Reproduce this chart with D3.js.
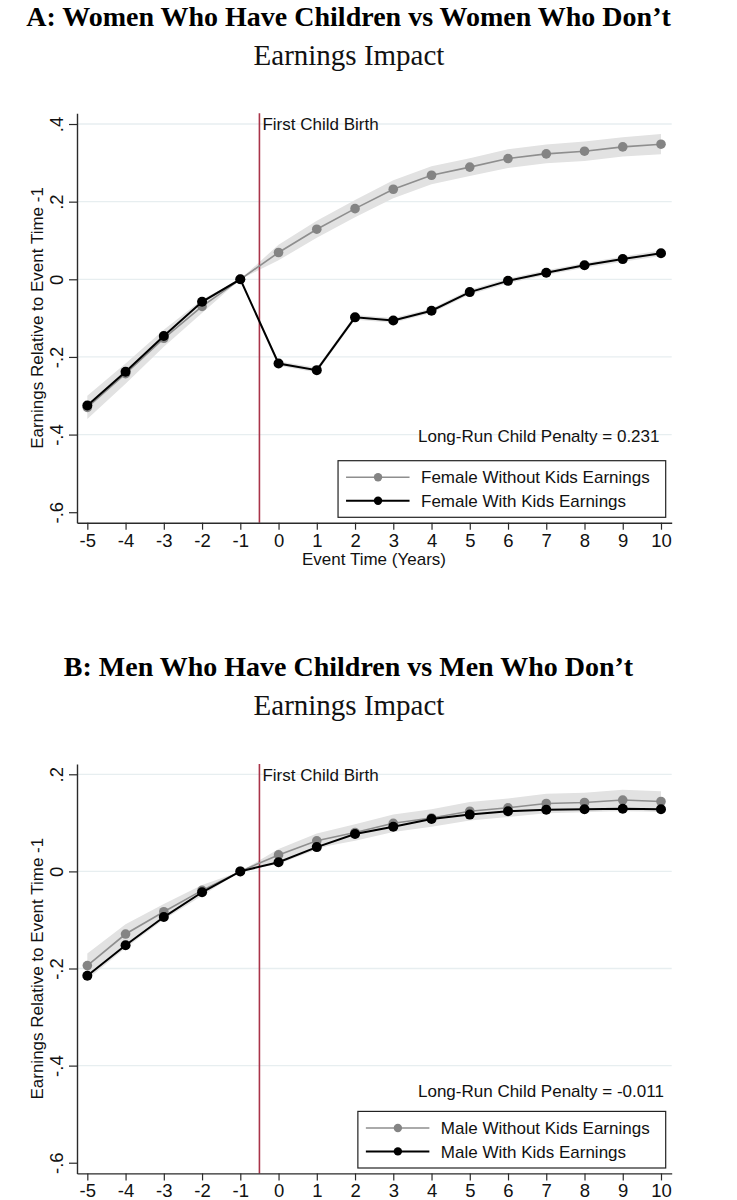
<!DOCTYPE html>
<html>
<head>
<meta charset="utf-8">
<script src="https://cdn.jsdelivr.net/npm/d3@7"></script>
<style>
  html, body { margin: 0; padding: 0; background: #ffffff; }
  svg { display: block; }
  text { font-family: "Liberation Sans", Arial, Helvetica, sans-serif; fill: #111; }
</style>
</head>
<body>
<svg id="chart" width="737" height="1200"></svg>
<script>
// ---------------- DATA ----------------
const eventTimes = [-5, -4, -3, -2, -1, 0, 1, 2, 3, 4, 5, 6, 7, 8, 9, 10];
const xTickLabels = ["-5", "-4", "-3", "-2", "-1", "0", "1", "2", "3", "4", "5", "6", "7", "8", "9", "10"];

const yTicks = [0.4, 0.2, 0, -0.2, -0.4, -0.6];
const yTickLabelsA = [".4", ".2", "0", "-.2", "-.4", "-.6"];
const yTicksB = [0.2, 0, -0.2, -0.4, -0.6];
const yTickLabelsB = [".2", "0", "-.2", "-.4", "-.6"];

// Panel A: women
const femaleWithoutKids   = [-0.330, -0.243, -0.152, -0.070, 0, 0.069, 0.129, 0.182, 0.232, 0.268, 0.289, 0.311, 0.323, 0.330, 0.341, 0.348];
const femaleWithoutKidsCI = [0.030, 0.026, 0.022, 0.017, 0, 0.020, 0.022, 0.022, 0.023, 0.023, 0.023, 0.024, 0.024, 0.025, 0.025, 0.026];
const femaleWithKids      = [-0.325, -0.238, -0.146, -0.058, 0, -0.217, -0.234, -0.098, -0.106, -0.081, -0.033, -0.004, 0.017, 0.036, 0.052, 0.067];
const femaleWithKidsCI    = [0.010, 0.009, 0.008, 0.006, 0, 0.006, 0.006, 0.006, 0.006, 0.006, 0.006, 0.006, 0.006, 0.006, 0.007, 0.007];

// Panel B: men
const maleWithoutKids   = [-0.194, -0.129, -0.083, -0.039, 0, 0.034, 0.063, 0.080, 0.099, 0.110, 0.124, 0.131, 0.140, 0.142, 0.147, 0.144];
const maleWithoutKidsCI = [0.025, 0.020, 0.016, 0.011, 0, 0.012, 0.015, 0.017, 0.018, 0.018, 0.019, 0.019, 0.020, 0.020, 0.021, 0.021];
const maleWithKids      = [-0.215, -0.152, -0.094, -0.043, 0, 0.019, 0.050, 0.077, 0.092, 0.108, 0.117, 0.124, 0.127, 0.128, 0.129, 0.128];
const maleWithKidsCI    = [0.007, 0.006, 0.005, 0.004, 0, 0.004, 0.005, 0.005, 0.005, 0.005, 0.005, 0.005, 0.005, 0.005, 0.005, 0.005];

const eventLine = -0.5;

// ---------------- LAYOUT ----------------
const svg = d3.select("#chart");
const plot = { left: 77, right: 671.7, top: 113.3, bottom: 522.7 };
const xDomain = [-5.27, 10.28];

const panels = [
  {
    offset: 0,
    title: "A: Women Who Have Children vs Women Who Don\u2019t",
    subtitle: "Earnings Impact",
    yDomain: [-0.627, 0.4276],
    yTicks: yTicks, yTickLabels: yTickLabelsA,
    without: femaleWithoutKids, withoutCI: femaleWithoutKidsCI,
    withK: femaleWithKids, withCI: femaleWithKidsCI,
    legend: ["Female Without Kids Earnings", "Female With Kids Earnings"],
    penalty: "Long-Run Child Penalty = 0.231",
    penaltyY: 441.5,
    xLabel: "Event Time (Years)"
  },
  {
    offset: 650.7,
    title: "B: Men Who Have Children vs Men Who Don\u2019t",
    subtitle: "Earnings Impact",
    yDomain: [-0.622, 0.2212],
    yTicks: yTicksB, yTickLabels: yTickLabelsB,
    without: maleWithoutKids, withoutCI: maleWithoutKidsCI,
    withK: maleWithKids, withCI: maleWithKidsCI,
    legend: ["Male Without Kids Earnings", "Male With Kids Earnings"],
    penalty: "Long-Run Child Penalty = -0.011",
    penaltyY: 446,
    xLabel: null   // cropped off the bottom of the picture
  }
];

const GRAY = "#848484";
const GRAY_LINE = "#8e8e8e";
const BAND = "#e2e2e2";
const RED = "#a93449";
const GRID = "#e7eef0";
const AXIS = "#2a2a2a";

const x = d3.scaleLinear().domain(xDomain).range([plot.left, plot.right]);

panels.forEach(p => {
  const g = svg.append("g").attr("transform", `translate(0,${p.offset})`);
  const y = d3.scaleLinear().domain(p.yDomain).range([plot.bottom, plot.top]);

  // Titles
  g.append("text")
    .attr("x", 348.5).attr("y", 25.5)
    .attr("text-anchor", "middle")
    .style("font-family", "'Liberation Serif', 'Times New Roman', serif")
    .style("font-weight", "bold")
    .style("font-size", "28px")
    .style("fill", "#000")
    .text(p.title);
  g.append("text")
    .attr("x", 349).attr("y", 64.5)
    .attr("text-anchor", "middle")
    .style("font-family", "'Liberation Serif', 'Times New Roman', serif")
    .style("font-size", "29px")
    .style("fill", "#111")
    .text(p.subtitle);

  // Gridlines (not on the bottom-most tick)
  g.append("g").selectAll("line")
    .data(p.yTicks.filter(v => v > p.yDomain[0] + 0.05))
    .join("line")
    .attr("x1", plot.left).attr("x2", plot.right)
    .attr("y1", d => y(d)).attr("y2", d => y(d))
    .attr("stroke", GRID).attr("stroke-width", 1.3);

  // CI bands
  const data = eventTimes.map((t, i) => ({
    t,
    a: p.without[i], aci: p.withoutCI[i],
    b: p.withK[i], bci: p.withCI[i]
  }));
  const areaA = d3.area().x(d => x(d.t)).y0(d => y(d.a - d.aci)).y1(d => y(d.a + d.aci));
  const areaB = d3.area().x(d => x(d.t)).y0(d => y(d.b - d.bci)).y1(d => y(d.b + d.bci));
  g.append("path").datum(data).attr("d", areaA).attr("fill", BAND);
  g.append("path").datum(data).attr("d", areaB).attr("fill", BAND);

  // Event line
  g.append("line")
    .attr("x1", x(eventLine)).attr("x2", x(eventLine))
    .attr("y1", plot.top).attr("y2", plot.bottom)
    .attr("stroke", RED).attr("stroke-width", 1.6);
  g.append("text")
    .attr("x", x(eventLine) + 3).attr("y", plot.top + 17)
    .style("font-size", "17px")
    .text("First Child Birth");

  // Series lines
  const lineA = d3.line().x(d => x(d.t)).y(d => y(d.a));
  const lineB = d3.line().x(d => x(d.t)).y(d => y(d.b));
  g.append("path").datum(data).attr("d", lineA)
    .attr("fill", "none").attr("stroke", GRAY_LINE).attr("stroke-width", 1.6);
  g.append("g").selectAll("circle").data(data).join("circle")
    .attr("cx", d => x(d.t)).attr("cy", d => y(d.a)).attr("r", 4.8)
    .attr("fill", GRAY);
  g.append("path").datum(data).attr("d", lineB)
    .attr("fill", "none").attr("stroke", "#000").attr("stroke-width", 2);
  g.append("g").selectAll("circle").data(data).join("circle")
    .attr("cx", d => x(d.t)).attr("cy", d => y(d.b)).attr("r", 5)
    .attr("fill", "#000");

  // Y axis
  const yAxis = d3.axisLeft(y)
    .tickValues(p.yTicks)
    .tickFormat((d, i) => p.yTickLabels[i])
    .tickSize(8).tickSizeOuter(0);
  const ya = g.append("g").attr("transform", `translate(${plot.left},0)`).call(yAxis);
  ya.select(".domain").attr("stroke", AXIS).attr("stroke-width", 1.4);
  ya.selectAll(".tick line").attr("stroke", AXIS).attr("stroke-width", 1.2);
  ya.selectAll(".tick text")
    .attr("transform", "rotate(-90)")
    .attr("x", 0).attr("y", -14.5).attr("dy", 0)
    .attr("text-anchor", "middle")
    .style("font-size", "18.5px")
    .style("font-family", "'Liberation Sans', Arial, sans-serif")
    .attr("fill", "#111");

  // X axis
  const xAxis = d3.axisBottom(x)
    .tickValues(eventTimes)
    .tickFormat((d, i) => xTickLabels[i])
    .tickSize(7).tickSizeOuter(0);
  const xa = g.append("g").attr("transform", `translate(0,${plot.bottom})`).call(xAxis);
  xa.select(".domain").attr("stroke", AXIS).attr("stroke-width", 1.4);
  xa.selectAll(".tick line").attr("stroke", AXIS).attr("stroke-width", 1.2);
  xa.selectAll(".tick text")
    .attr("y", 24).attr("dy", 0)
    .style("font-size", "18.5px")
    .style("font-family", "'Liberation Sans', Arial, sans-serif")
    .attr("fill", "#111");

  // Axis titles
  g.append("text")
    .attr("transform", `translate(43,${(plot.top + plot.bottom) / 2}) rotate(-90)`)
    .attr("text-anchor", "middle")
    .style("font-size", "17px")
    .text("Earnings Relative to Event Time -1");
  if (p.xLabel) {
    g.append("text")
      .attr("x", 374).attr("y", plot.bottom + 42)
      .attr("text-anchor", "middle")
      .style("font-size", "17px")
      .text(p.xLabel);
  }

  // Penalty note
  g.append("text")
    .attr("x", 418).attr("y", p.penaltyY)
    .style("font-size", "17px")
    .text(p.penalty);

  // Legend
  const leg = g.append("g");
  const boxRight = 665.7, boxTop = 460.7, boxH = 56.6;
  const rowY = [boxTop + 16.6, boxTop + 40];
  const texts = leg.selectAll("text.leg").data(p.legend).join("text")
    .attr("class", "leg")
    .attr("y", (d, i) => rowY[i]).attr("dy", "0.36em")
    .style("font-size", "17px")
    .text(d => d);
  let maxW = 0;
  texts.each(function () { maxW = Math.max(maxW, this.getComputedTextLength()); });
  const textX = boxRight - 16 - maxW;
  texts.attr("x", textX);
  const boxLeft = textX - 83;
  leg.insert("rect", "text")
    .attr("x", boxLeft).attr("y", boxTop)
    .attr("width", boxRight - boxLeft).attr("height", boxH)
    .attr("fill", "#fff").attr("stroke", "#222").attr("stroke-width", 1.2);
  const styles = [
    { stroke: GRAY_LINE, fill: GRAY, w: 1.5 },
    { stroke: "#000", fill: "#000", w: 2 }
  ];
  styles.forEach((s, i) => {
    leg.append("line")
      .attr("x1", boxLeft + 8).attr("x2", boxLeft + 71.5)
      .attr("y1", rowY[i]).attr("y2", rowY[i])
      .attr("stroke", s.stroke).attr("stroke-width", s.w);
    leg.append("circle")
      .attr("cx", boxLeft + 40).attr("cy", rowY[i]).attr("r", 4.2)
      .attr("fill", s.fill);
  });
});
</script>
</body>
</html>
